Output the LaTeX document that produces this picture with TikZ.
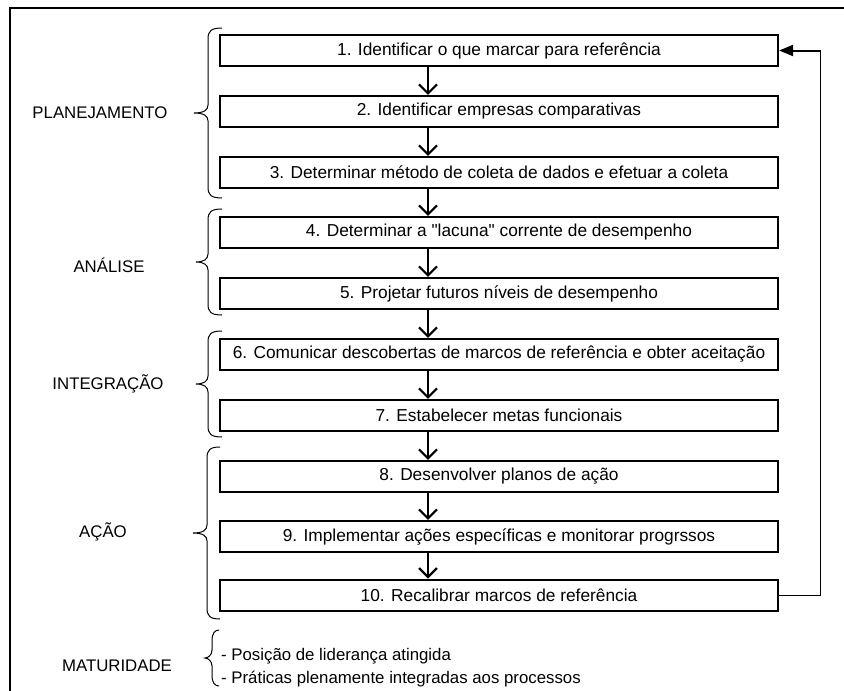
\documentclass[tikz,border=0pt]{standalone}
\usepackage{fontspec}
\setmainfont[Ligatures=TeXOff]{Liberation Sans}
\usetikzlibrary{arrows.meta}
\tikzset{
  stepbox/.style={draw, line width=2.2pt, minimum width=558pt, minimum height=31pt, inner sep=0pt, font=\fontsize{17.3}{20}\selectfont},
  flow/.style={line width=2.2pt, -{Straight Barb[length=9pt,width=18pt,line width=2.2pt]}},
  lbl/.style={font=\fontsize{16.8}{20}\selectfont, inner sep=0pt},
  brc/.style={line width=1pt},
}
\newcommand{\bracefull}[6]{%
  \draw[brc] (#3,#4) .. controls (#1+3,#4) and (#1,#4+3) .. (#1,#4+11)
    -- (#1,#6-8) .. controls (#1,#6-3) and (#1-4,#6) .. (#2,#6)
    .. controls (#1-4,#6) and (#1,#6+3) .. (#1,#6+8)
    -- (#1,#5-11) .. controls (#1,#5-3) and (#1+3,#5) .. (#3,#5);}
\begin{document}
\begin{tikzpicture}[x=1pt,y=-1pt]
\useasboundingbox (0,0) rectangle (844,691);
\clip (0,0) rectangle (844,691);
\fill[white] (0,0) rectangle (844,691);
\draw[line width=2pt] (10,700) -- (10,8) -- (860,8);

\node[stepbox] (b1) at (499,50.5) {1. Identificar o que marcar para referência};
\node[stepbox] (b2) at (499,111.5) {2. Identificar empresas comparativas};
\node[stepbox] (b3) at (499,172.5) {3. Determinar método de coleta de dados e efetuar a coleta};
\node[stepbox] (b4) at (499,232.5) {4. Determinar a "lacuna" corrente de desempenho};
\node[stepbox] (b5) at (499,293.5) {5. Projetar futuros níveis de desempenho};
\node[stepbox] (b6) at (499,354.5) {6. Comunicar descobertas de marcos de referência e obter aceitação};
\node[stepbox] (b7) at (499,415.5) {7. Estabelecer metas funcionais};
\node[stepbox] (b8) at (499,476.5) {8. Desenvolver planos de ação};
\node[stepbox] (b9) at (499,536.5) {9. Implementar ações específicas e monitorar progrssos};
\node[stepbox, line width=2.8pt] (b10) at (499,595.5) {10. Recalibrar marcos de referência};

\coordinate (ax) at (428,0);
\foreach \a/\b in {b1/b2,b2/b3,b3/b4,b4/b5,b5/b6,b6/b7,b7/b8,b8/b9,b9/b10}
  \draw[flow] (\a.south -| ax) -- (\b.north -| ax);

\coordinate (fb1) at (820,595.5);
\coordinate (fb2) at (820,50.5);
\draw[line width=1pt] (b10.east) -- (fb1) -- (fb2);
\draw[line width=2pt, -{Triangle[length=14pt,width=11pt]}] ([xshift=0.5pt]fb2) -- (b1.east);

\bracefull{208}{194}{222}{28}{198}{113}
\bracefull{208}{196}{222}{209}{315}{262}
\bracefull{208}{196}{222}{331}{437}{384}
\bracefull{207}{193}{220}{447}{619}{533}
\bracefull{212}{205}{219}{630}{686}{658}

\node[lbl] (l1) at (100,112.5) {PLANEJAMENTO};
\node[lbl] (l2) at (109,265) {ANÁLISE};
\node[lbl] (l3) at (108,384) {INTEGRAÇÃO};
\node[lbl] (l4) at (103,532) {AÇÃO};
\node[lbl] (l5) at (117,666) {MATURIDADE};
\node[lbl, anchor=west] (m1) at (221,656) {- Posição de liderança atingida};
\node[lbl, anchor=west] (m2) at (221,679) {- Práticas plenamente integradas aos processos};
\end{tikzpicture}
\end{document}
